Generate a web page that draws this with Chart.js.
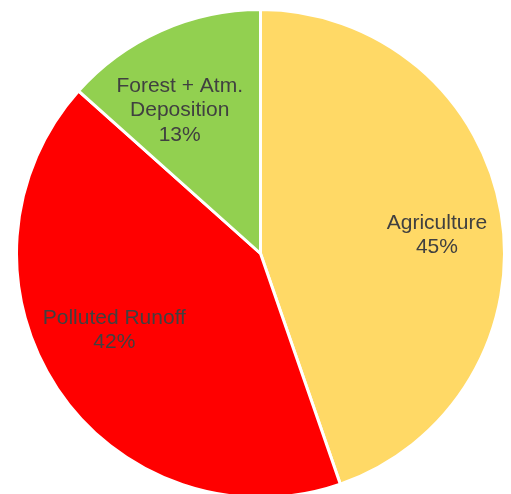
<!DOCTYPE html>
<html>
<head>
<meta charset="utf-8">
<script src="https://cdn.jsdelivr.net/npm/chart.js@4/dist/chart.umd.min.js"></script>
<style>
  html, body { margin: 0; padding: 0; background: #fff; overflow: hidden; }
  #wrap { width: 511px; height: 494px; }
</style>
</head>
<body>
<div id="wrap"><canvas id="pie"></canvas></div>
<script>
// slice names (multi-line where the label wraps) and their shares
var categories = ['Agriculture', 'Polluted Runoff', ['Forest + Atm.', 'Deposition']];
var shares = [44.7, 41.9, 13.4];
var sliceColors = ['#FFD966', '#FF0000', '#92D050'];

// draws "name / NN%" inside each slice, like the office chart does
var sliceLabels = {
	id: 'sliceLabels',
	afterDatasetsDraw: function(chart, args, opts) {
		var ctx = chart.ctx;
		var meta = chart.getDatasetMeta(0);
		var total = shares.reduce(function(a, b) { return a + b; }, 0);
		ctx.save();
		ctx.font = opts.font;
		ctx.fillStyle = opts.color;
		ctx.textAlign = 'center';
		ctx.textBaseline = 'middle';
		meta.data.forEach(function(arc, i) {
			var p = arc.getProps(['x', 'y', 'startAngle', 'endAngle', 'outerRadius'], true);
			var mid = (p.startAngle + p.endAngle) / 2;
			var r = p.outerRadius * opts.fraction;
			var nudge = opts.nudge[i] || [0, 0];
			var cx = p.x + Math.cos(mid) * r + nudge[0];
			var cy = p.y + Math.sin(mid) * r + nudge[1];
			var name = categories[i];
			var lines = (Array.isArray(name) ? name.slice() : [name]);
			lines.push(Math.round(shares[i] / total * 100) + '%');
			var top = cy - (lines.length - 1) * opts.lineHeight / 2;
			lines.forEach(function(t, k) {
				ctx.fillText(t, cx, top + k * opts.lineHeight);
			});
		});
		ctx.restore();
	}
};

new Chart(document.getElementById('pie'), {
	type: 'pie',
	data: {
		labels: categories,
		datasets: [{
			data: shares,
			backgroundColor: sliceColors,
			borderColor: '#FFFFFF',
			borderWidth: 3,
			radius: 244
		}]
	},
	options: {
		responsive: true,
		maintainAspectRatio: false,
		animation: false,
		layout: { padding: { left: 10, top: 13, right: 0, bottom: 0 } },
		plugins: {
			legend: { display: false },
			tooltip: { enabled: false },
			sliceLabels: {
				font: '21px "Liberation Sans", Arial, sans-serif',
				color: '#404040',
				lineHeight: 24.5,
				fraction: 0.7,
				nudge: [[8, 10], [-4, -18], [-11, 13]]
			}
		}
	},
	plugins: [sliceLabels]
});
</script>
</body>
</html>
